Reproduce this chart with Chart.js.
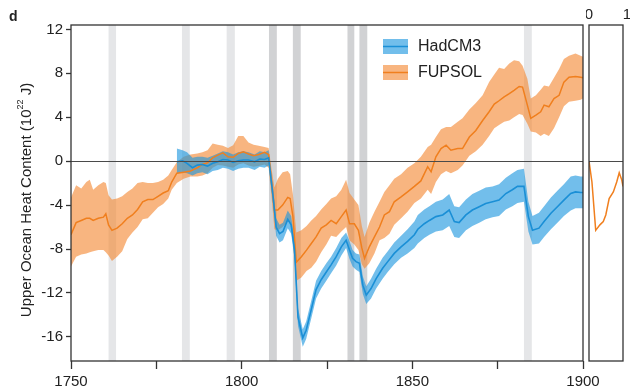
<!DOCTYPE html>
<html>
<head>
<meta charset="utf-8">
<script src="https://cdn.jsdelivr.net/npm/chart.js@4.4.1/dist/chart.umd.min.js"></script>
<style>
  html, body { margin: 0; padding: 0; background: #fff; }
  #wrap { position: relative; width: 630px; height: 392px; }
  #mainBox { position: absolute; left: 0; top: 0; width: 630px; height: 392px; }
  #sideBox { position: absolute; left: 586px; top: 0; width: 44px; height: 392px; }
</style>
</head>
<body>
<div id="wrap">
  <div id="mainBox"><canvas id="heatChart"></canvas></div>
  <div id="sideBox"><canvas id="sideChart"></canvas></div>
</div>
<script>
// FUPSOL reconstruction: ensemble mean and spread
const fupsolYears = [1750, 1751.5, 1753, 1754.5, 1755.5, 1756.5, 1758, 1759.5, 1760.2, 1761, 1762, 1763.5, 1765, 1766.5, 1768, 1769.5, 1771, 1772.5, 1774, 1775.5, 1777, 1778.5, 1779.5, 1781, 1783, 1785, 1787, 1788.5, 1790, 1791.5, 1793, 1794.5, 1796, 1797.5, 1799, 1800.5, 1802, 1803.5, 1805, 1806.7, 1807.9, 1808.8, 1809.6, 1810.6, 1812, 1813.5, 1814.2, 1815, 1816, 1817.5, 1819, 1820.4, 1821.8, 1823.3, 1824.8, 1826.2, 1827.7, 1829.2, 1830.6, 1831.6, 1833, 1834.2, 1835.2, 1836, 1837.4, 1838.9, 1840.4, 1841.8, 1843.3, 1844.7, 1846.7, 1848.6, 1850.6, 1852.5, 1854.5, 1855.5, 1856.9, 1858.4, 1859.9, 1861.3, 1863.3, 1864.7, 1866.7, 1868.6, 1870.6, 1872.5, 1874, 1875.4, 1876.9, 1878.4, 1879.8, 1881.3, 1882.3, 1883.7, 1884.7, 1886.2, 1887.6, 1888.6, 1890, 1891.5, 1893, 1894.4, 1895.9, 1897.8, 1899.3, 1900];
const fupsolMean = [-6.7, -5.6, -5.4, -5.2, -5.2, -5.4, -5.2, -5.1, -4.8, -5.8, -6.3, -6.1, -5.7, -5.2, -4.9, -4.4, -3.7, -3.5, -3.5, -3.2, -2.9, -2.7, -1.9, -1.1, -1.0, -0.9, -0.6, -0.3, -0.15, 0.3, 0.55, 0.75, 0.4, 0.35, 0.7, 0.85, 0.65, 0.5, 0.6, 0.8, 0.6, -2.0, -4.45, -4.45, -4.0, -3.3, -3.4, -5.0, -9.2, -8.7, -8.1, -7.5, -6.9, -6.1, -5.8, -5.4, -5.7, -5.05, -4.45, -5.7, -5.7, -6.3, -7.9, -8.85, -7.8, -6.9, -6.0, -4.9, -4.6, -3.7, -3.25, -2.8, -2.3, -1.8, -0.5, -0.97, 0.4, 1.15, 1.45, 1.0, 1.15, 1.15, 2.2, 2.8, 3.7, 4.5, 5.2, 5.5, 5.85, 6.15, 6.45, 6.8, 6.75, 5.1, 3.9, 4.2, 4.5, 5.1, 4.95, 5.7, 6.0, 7.2, 7.65, 7.7, 7.65, 7.6];
const fupsolLow = [-9.6, -8.7, -8.5, -8.4, -8.3, -8.2, -8.1, -8.1, -8.3, -8.6, -9.1, -8.7, -8.2, -7.1, -6.5, -6.0, -5.3, -5.2, -4.7, -4.2, -3.9, -3.4, -2.6, -2.0, -1.6, -1.4, -1.4, -1.3, -1.1, -0.6, -0.36, -0.4, -0.5, -0.6, -0.3, -0.2, -0.4, -0.5, -0.45, -0.3, -0.6, -3.4, -6.2, -6.3, -6.0, -5.5, -5.6, -7.2, -10.9, -10.6, -10.0, -9.7, -9.15, -8.3, -7.6, -6.8, -6.9, -6.4, -6.0, -7.2, -7.6, -8.1, -9.4, -9.8, -9.3, -8.4, -7.2, -7.0, -6.6, -5.8, -5.2, -4.6, -3.8, -3.4, -2.6, -3.0, -1.9, -1.2, -0.9, -1.1, -0.8, -0.4, 0.5, 0.9, 1.5, 2.3, 3.0, 3.3, 3.6, 3.7, 4.0, 4.3, 4.2, 3.4, 2.7, 2.6, 2.3, 2.5, 2.3, 3.0, 4.0, 5.0, 5.4, 5.5, 5.6, 5.7];
const fupsolHigh = [-3.3, -2.2, -2.5, -1.9, -1.7, -2.6, -2.2, -1.9, -2.0, -3.1, -3.5, -3.4, -3.2, -2.8, -2.5, -2.0, -1.9, -2.0, -2.0, -1.9, -1.7, -1.3, -0.8, -0.1, 0.4, 0.6, 0.7, 0.8, 1.0, 1.6, 1.5, 1.4, 1.2, 1.45, 2.3, 2.3, 1.7, 1.5, 1.4, 1.3, 1.2, -0.8, -2.4, -1.6, -1.0, -0.9, -1.2, -3.0, -6.5, -6.3, -5.9, -5.4, -5.0, -4.4, -3.9, -3.4, -3.2, -2.6, -1.7, -2.9, -3.5, -4.0, -5.9, -6.9, -5.6, -4.6, -3.7, -2.8, -2.2, -1.6, -1.2, -0.6, -0.2, 0.4, 1.3, 1.5, 2.2, 2.9, 3.1, 3.1, 3.6, 3.9, 4.7, 5.3, 6.0, 7.2, 7.9, 8.5, 8.4, 8.9, 9.2, 9.1, 8.7, 7.5, 5.7, 6.0, 6.5, 6.9, 6.8, 7.6, 8.4, 9.3, 9.6, 9.8, 9.6, 9.5];

// HadCM3 simulation: ensemble mean and spread
const hadcm3Years = [1781, 1782.7, 1784, 1785.6, 1787, 1788.5, 1790, 1791.5, 1793, 1794.5, 1796, 1797.5, 1799, 1800.5, 1802, 1803.8, 1805.3, 1806.7, 1807.9, 1809.2, 1810.1, 1811.1, 1812.1, 1813.5, 1814.5, 1815.5, 1816.5, 1817.9, 1818.9, 1820.4, 1821.8, 1823.3, 1824.8, 1826.2, 1827.7, 1829.2, 1830.6, 1831.6, 1832.5, 1833.5, 1834.5, 1835.5, 1836.5, 1837.9, 1839.4, 1841.3, 1842.8, 1844.7, 1846.7, 1848.6, 1850.6, 1851.6, 1853.5, 1855, 1856.9, 1858.9, 1860.8, 1862.3, 1863.7, 1865.7, 1867.6, 1869.6, 1871.5, 1873.5, 1875.4, 1877.4, 1879.3, 1880.8, 1882.7, 1884, 1885.2, 1887.1, 1888.6, 1890.6, 1892.5, 1894.4, 1896.4, 1897.8, 1899.3, 1900];
const hadcm3Mean = [-0.05, 0.03, -0.2, -0.6, -0.36, -0.3, -0.45, -0.2, -0.06, 0.15, 0.1, -0.12, 0.03, 0.1, 0.1, -0.06, 0.2, 0.15, 0.3, -3.2, -6.0, -6.6, -6.4, -5.3, -5.8, -8.1, -14.2, -16.1, -15.4, -13.5, -11.7, -10.8, -10.1, -9.45, -8.7, -7.8, -7.2, -8.1, -8.85, -9.15, -9.3, -11.3, -12.2, -11.6, -10.7, -9.75, -9.15, -8.4, -7.8, -7.3, -6.7, -6.2, -5.7, -5.4, -5.05, -4.9, -4.45, -5.5, -5.6, -4.9, -4.45, -4.15, -3.85, -3.7, -3.55, -2.95, -2.6, -2.3, -2.3, -5.05, -6.3, -6.1, -5.5, -4.75, -4.15, -3.55, -2.95, -2.8, -2.85, -2.85];
const hadcm3Low = [-1.1, -1.0, -1.1, -1.3, -1.1, -1.0, -1.2, -0.9, -0.8, -0.6, -0.7, -0.9, -0.7, -0.6, -0.6, -0.8, -0.5, -0.6, -0.4, -3.9, -6.8, -7.4, -7.2, -6.1, -6.6, -8.9, -15.0, -16.9, -16.2, -14.3, -12.5, -11.6, -10.9, -10.2, -9.5, -8.6, -7.9, -8.9, -9.6, -9.9, -10.1, -12.1, -13.0, -12.5, -11.6, -10.7, -10.1, -9.4, -8.8, -8.4, -7.9, -7.5, -7.0, -6.7, -6.4, -6.3, -5.9, -6.9, -7.0, -6.3, -5.9, -5.6, -5.3, -5.1, -5.0, -4.4, -4.1, -3.8, -3.7, -6.4, -7.6, -7.5, -6.9, -6.2, -5.6, -5.0, -4.5, -4.3, -4.3, -4.3];
const hadcm3High = [1.15, 1.0, 0.8, 0.3, 0.4, 0.4, 0.3, 0.5, 0.7, 0.9, 0.8, 0.6, 0.8, 0.9, 0.8, 0.6, 0.9, 0.8, 1.0, -2.5, -5.2, -5.8, -5.6, -4.5, -5.0, -7.3, -13.4, -15.3, -14.6, -12.7, -10.9, -10.0, -9.3, -8.7, -7.9, -7.0, -6.5, -7.3, -8.1, -8.4, -8.5, -10.5, -11.4, -10.7, -9.8, -8.8, -8.2, -7.4, -6.8, -6.2, -5.5, -4.9, -4.4, -4.1, -3.7, -3.5, -3.0, -4.1, -4.2, -3.5, -3.0, -2.7, -2.4, -2.3, -2.1, -1.5, -1.1, -0.8, -0.7, -3.7, -5.0, -4.7, -4.1, -3.3, -2.7, -2.1, -1.4, -1.3, -1.4, -1.4];

// volcanic eruption periods (strong ones shaded darker)
const eruptionStart = [1761, 1782.5, 1795.6, 1808, 1815, 1831, 1834.5, 1882.7];
const eruptionEnd = [1763.2, 1784.8, 1798, 1810.3, 1817.3, 1833, 1836.8, 1885];
const eruptionStrong = [false, false, false, true, true, true, true, false];

const xTicks = [1750, 1775, 1800, 1825, 1850, 1875, 1900];
const xLabels = [1750, 1800, 1850, 1900];
const yTicks = [-16, -12, -8, -4, 0, 4, 8, 12];

// side panel: FUPSOL response, years after eruption
const sideYears = [0, 0.7, 1.6, 2.6, 3.4, 4.0, 4.8, 5.8, 6.6, 7.2, 7.8, 8.1];
const sideValues = [0, -1.9, -6.3, -5.8, -5.5, -4.9, -3.4, -2.8, -1.9, -1.05, -1.7, -2.3];
const sideTicks = [0, 10];

const Y_MIN = -18.2, Y_MAX = 12.4;
const FONT = "'Liberation Sans', Arial, Helvetica, sans-serif";
const INK = '#222';
const BLUE = '#1a8fd6', BLUE_BAND = 'rgba(28,150,222,0.62)';
const ORANGE = '#f07f1e', ORANGE_BAND = 'rgba(244,135,50,0.62)';

Chart.defaults.font.family = FONT;
Chart.defaults.color = INK;

const pts = (xs, ys) => xs.map((x, i) => ({x: x, y: ys[i]}));

function frame(chart) {
    const a = chart.chartArea, ctx = chart.ctx;
    ctx.save();
    ctx.strokeStyle = '#333';
    ctx.lineWidth = 1.3;
    ctx.strokeRect(a.left, a.top, a.right - a.left, a.bottom - a.top);
    ctx.restore();
}

function zeroLine(chart) {
    const a = chart.chartArea, ctx = chart.ctx;
    const y0 = Math.round(chart.scales.y.getPixelForValue(0)) + 0.5;
    ctx.save();
    ctx.strokeStyle = '#4a4a4a';
    ctx.lineWidth = 1.2;
    ctx.beginPath();
    ctx.moveTo(a.left, y0);
    ctx.lineTo(a.right, y0);
    ctx.stroke();
    ctx.restore();
}

// rotated axis title with a real superscript exponent
function yTitle(ctx, cx, cy) {
    const parts = [['Upper Ocean Heat Content (10', 15, 0], ['22', 9, -6], [' J)', 15, 0]];
    ctx.save();
    ctx.translate(cx, cy);
    ctx.rotate(-Math.PI / 2);
    ctx.fillStyle = INK;
    ctx.textBaseline = 'middle';
    let total = 0;
    parts.forEach(([t, size]) => { ctx.font = size + 'px ' + FONT; total += ctx.measureText(t).width; });
    let x = -total / 2;
    parts.forEach(([t, size, dy]) => {
        ctx.font = size + 'px ' + FONT;
        ctx.fillText(t, x, dy);
        x += ctx.measureText(t).width;
    });
    ctx.restore();
}

const heatDecor = {
    id: 'heatDecor',
    beforeDatasetsDraw(chart) {
        const a = chart.chartArea, ctx = chart.ctx, x = chart.scales.x;
        ctx.save();
        eruptionStart.forEach((s, i) => {
            const x0 = x.getPixelForValue(s), x1 = x.getPixelForValue(eruptionEnd[i]);
            ctx.fillStyle = eruptionStrong[i] ? '#d1d2d4' : '#e5e6e8';
            ctx.fillRect(x0, a.top, x1 - x0, a.bottom - a.top);
        });
        ctx.restore();
    },
    afterDatasetsDraw(chart) {
        zeroLine(chart);
    },
    afterDraw(chart) {
        const ctx = chart.ctx;
        frame(chart);
        yTitle(ctx, 27, 200);
        // legend
        const entries = [['HadCM3', BLUE_BAND, BLUE, 39], ['FUPSOL', ORANGE_BAND, ORANGE, 65]];
        ctx.save();
        entries.forEach(([name, band, line, top]) => {
            ctx.fillStyle = band;
            ctx.fillRect(383, top, 25, 15);
            ctx.strokeStyle = line;
            ctx.lineWidth = 1.5;
            ctx.beginPath();
            ctx.moveTo(383, top + 7.5);
            ctx.lineTo(408, top + 7.5);
            ctx.stroke();
            ctx.fillStyle = INK;
            ctx.font = '16px ' + FONT;
            ctx.textBaseline = 'middle';
            ctx.fillText(name, 418, top + 8);
        });
        ctx.font = 'bold 14px ' + FONT;
        ctx.textBaseline = 'alphabetic';
        ctx.fillText('d', 9, 21);
        ctx.restore();
    }
};

const bandLine = {pointRadius: 0, borderWidth: 0, tension: 0};

new Chart(document.getElementById('heatChart'), {
    type: 'line',
    data: {
        datasets: [
            {...bandLine, label: 'FUPSOL low', data: pts(fupsolYears, fupsolLow), fill: false, order: 6},
            {...bandLine, label: 'FUPSOL high', data: pts(fupsolYears, fupsolHigh), fill: '-1', backgroundColor: ORANGE_BAND, order: 5},
            {...bandLine, label: 'HadCM3 low', data: pts(hadcm3Years, hadcm3Low), fill: false, order: 4},
            {...bandLine, label: 'HadCM3 high', data: pts(hadcm3Years, hadcm3High), fill: '-1', backgroundColor: BLUE_BAND, order: 3},
            {label: 'FUPSOL', data: pts(fupsolYears, fupsolMean), borderColor: ORANGE, borderWidth: 1.5, pointRadius: 0, fill: false, order: 2},
            {label: 'HadCM3', data: pts(hadcm3Years, hadcm3Mean), borderColor: BLUE, borderWidth: 1.6, pointRadius: 0, fill: false, order: 1}
        ]
    },
    options: {
        responsive: true,
        maintainAspectRatio: false,
        animation: false,
        devicePixelRatio: 1,
        layout: {padding: {top: 25, right: 47, bottom: 0, left: 0}},
        plugins: {legend: {display: false}, tooltip: {enabled: false}},
        scales: {
            x: {
                type: 'linear',
                min: 1750,
                max: 1900,
                afterBuildTicks: (s) => { s.ticks = xTicks.map(v => ({value: v})); },
                afterFit: (s) => { s.height = 31; s.paddingLeft = 0; s.paddingRight = 0; },
                border: {display: false},
                grid: {drawOnChartArea: false, drawTicks: true, tickLength: 8, color: '#333', tickWidth: 1.3},
                ticks: {
                    autoSkip: false,
                    maxRotation: 0,
                    padding: 4,
                    font: {size: 15},
                    color: INK,
                    callback: (v) => xLabels.includes(v) ? String(v) : ''
                }
            },
            y: {
                min: Y_MIN,
                max: Y_MAX,
                afterBuildTicks: (s) => { s.ticks = yTicks.map(v => ({value: v})); },
                afterFit: (s) => { s.width = 71; },
                border: {display: false},
                grid: {drawOnChartArea: false, drawTicks: true, tickLength: 5, color: '#333', tickWidth: 1.3},
                ticks: {padding: 3, font: {size: 15}, color: INK, callback: (v) => String(v)}
            }
        }
    },
    plugins: [heatDecor]
});

const sideDecor = {
    id: 'sideDecor',
    afterDatasetsDraw(chart) {
        zeroLine(chart);
        frame(chart);
    }
};

new Chart(document.getElementById('sideChart'), {
    type: 'line',
    data: {
        datasets: [
            {label: 'FUPSOL', data: pts(sideYears, sideValues), borderColor: ORANGE, borderWidth: 1.5, pointRadius: 0, fill: false, tension: 0}
        ]
    },
    options: {
        responsive: true,
        maintainAspectRatio: false,
        animation: false,
        devicePixelRatio: 1,
        layout: {padding: {top: 0, right: 7, bottom: 31, left: 3}},
        plugins: {legend: {display: false}, tooltip: {enabled: false}},
        scales: {
            x: {
                type: 'linear',
                position: 'top',
                min: 0,
                max: 8.1,
                afterBuildTicks: (s) => { s.ticks = sideTicks.map(v => ({value: v})); },
                afterFit: (s) => { s.height = 25; s.paddingLeft = 0; s.paddingRight = 0; },
                border: {display: false},
                grid: {display: false, drawTicks: false},
                ticks: {autoSkip: false, maxRotation: 0, padding: 1, font: {size: 15}, color: INK}
            },
            y: {
                display: false,
                min: Y_MIN,
                max: Y_MAX
            }
        }
    },
    plugins: [sideDecor]
});
</script>
</body>
</html>
